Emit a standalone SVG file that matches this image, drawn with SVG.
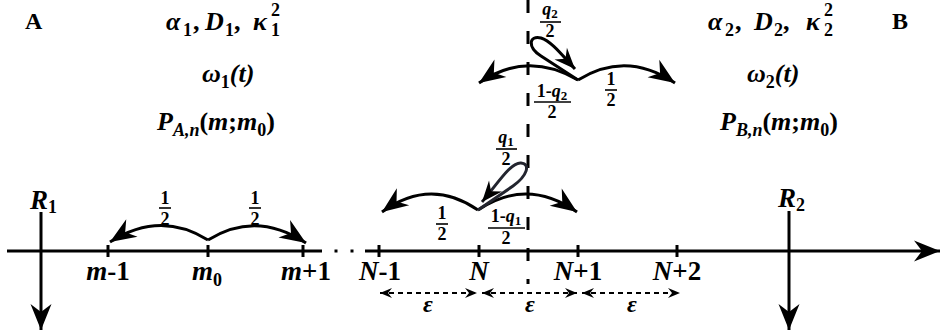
<svg xmlns="http://www.w3.org/2000/svg" width="943" height="336" viewBox="0 0 943 336">
<style>
.t{font-family:"Liberation Serif","Times New Roman",serif;font-weight:bold;fill:#000}
.i{font-style:italic}
.big{font-size:26px}
.ax{font-size:27px}
.sb{font-size:18px}
.f{font-family:"Liberation Serif","Times New Roman",serif;font-weight:bold;font-size:18px;fill:#000}
.fs{font-size:13px}
.ln{stroke:#000;stroke-width:3;fill:none}
.fl{stroke:#000;stroke-width:1.6}
.tk{stroke:#000;stroke-width:3}
.eps{stroke:#000;stroke-width:1.8;stroke-dasharray:5 4;fill:none}
</style>
<defs>
<marker id="ah" markerUnits="userSpaceOnUse" markerWidth="40" markerHeight="40" refX="0" refY="0" orient="auto" overflow="visible">
<path d="M0,0 L-26,-10.5 L-18,0 L-26,10.5 Z" fill="#000"/>
</marker>
<marker id="ahs" markerUnits="userSpaceOnUse" markerWidth="30" markerHeight="30" refX="0" refY="0" orient="auto" overflow="visible">
<path d="M0,0 L-21,-8.5 L-14,0 L-21,8.5 Z" fill="#000"/>
</marker>
<marker id="ae" markerUnits="userSpaceOnUse" markerWidth="20" markerHeight="20" refX="0" refY="0" orient="auto-start-reverse" overflow="visible">
<path d="M0,0 L-12,-5 L-8,0 L-12,5 Z" fill="#000"/>
</marker>
</defs>

<g id="labels-top">
<text class="t" x="25" y="29" font-size="24">A</text>
<text class="t" x="892" y="29" font-size="24">B</text>
</g>

<g id="regionA">
<text class="t big" y="30"><tspan class="i" x="166">α</tspan><tspan class="sb" x="183" dy="6">1</tspan><tspan x="193" dy="-6">,</tspan><tspan class="i" x="205">D</tspan><tspan class="sb" x="225" dy="6">1</tspan><tspan x="234" dy="-6">,</tspan><tspan class="i" x="253">κ</tspan><tspan class="sb" x="271" dy="6">1</tspan></text>
<text class="t sb" x="271" y="16">2</text>
<text class="t big" x="202" y="82"><tspan class="i">ω</tspan><tspan class="sb" dy="6">1</tspan><tspan class="i" dy="-6">(t)</tspan></text>
<text class="t big" x="157" y="130"><tspan class="i">P</tspan><tspan class="i sb" dy="6">A,n</tspan><tspan dy="-6">(</tspan><tspan class="i">m</tspan>;<tspan class="i">m</tspan><tspan class="sb" dy="6">0</tspan><tspan dy="-6">)</tspan></text>
</g>

<g id="regionB">
<text class="t big" y="30"><tspan class="i" x="708">α</tspan><tspan class="sb" x="725" dy="6">2</tspan><tspan x="735" dy="-6">,</tspan><tspan class="i" x="754">D</tspan><tspan class="sb" x="774" dy="6">2</tspan><tspan x="783" dy="-6">,</tspan><tspan class="i" x="806">κ</tspan><tspan class="sb" x="824" dy="6">2</tspan></text>
<text class="t sb" x="824" y="16">2</text>
<text class="t big" x="747" y="82"><tspan class="i">ω</tspan><tspan class="sb" dy="6">2</tspan><tspan class="i" dy="-6">(t)</tspan></text>
<text class="t big" x="720" y="130"><tspan class="i">P</tspan><tspan class="i sb" dy="6">B,n</tspan><tspan dy="-6">(</tspan><tspan class="i">m</tspan>;<tspan class="i">m</tspan><tspan class="sb" dy="6">0</tspan><tspan dy="-6">)</tspan></text>
</g>

<g id="axis">
<line class="ln" x1="7" y1="251" x2="322" y2="251"/>
<rect x="334.5" y="249.5" width="3" height="3"/>
<rect x="350.5" y="249.5" width="3" height="3"/>
<line class="ln" x1="365" y1="251" x2="940" y2="251" marker-end="url(#ah)"/>
<line class="tk" x1="108" y1="245" x2="108" y2="257"/>
<line class="tk" x1="208" y1="245" x2="208" y2="257"/>
<line class="tk" x1="303" y1="245" x2="303" y2="257"/>
<line class="tk" x1="379" y1="245" x2="379" y2="257"/>
<line class="tk" x1="479" y1="245" x2="479" y2="257"/>
<line class="tk" x1="578" y1="245" x2="578" y2="257"/>
<line class="tk" x1="677" y1="245" x2="677" y2="257"/>
<line x1="528" y1="0" x2="528" y2="284" stroke="#000" stroke-width="3" stroke-dasharray="13 18"/>
</g>

<g id="axis-labels">
<text class="t ax" x="108" y="280" text-anchor="middle"><tspan class="i">m</tspan>-1</text>
<text class="t ax" x="192" y="280"><tspan class="i">m</tspan><tspan class="sb" dy="6">0</tspan></text>
<text class="t ax" x="306" y="280" text-anchor="middle"><tspan class="i">m</tspan>+1</text>
<text class="t ax" x="380" y="280" text-anchor="middle"><tspan class="i">N</tspan>-1</text>
<text class="t ax i" x="479" y="280" text-anchor="middle">N</text>
<text class="t ax" x="578" y="280" text-anchor="middle"><tspan class="i">N</tspan>+1</text>
<text class="t ax" x="677" y="280" text-anchor="middle"><tspan class="i">N</tspan>+2</text>
</g>

<g id="R1">
<line class="ln" x1="41" y1="212" x2="41" y2="330" marker-end="url(#ah)"/>
<text class="t ax" x="30" y="209"><tspan class="i">R</tspan><tspan class="sb" dy="4">1</tspan></text>
</g>
<g id="R2">
<line class="ln" x1="789" y1="211" x2="789" y2="330" marker-end="url(#ah)"/>
<text class="t ax" x="778" y="207"><tspan class="i">R</tspan><tspan class="sb" dy="4">2</tspan></text>
</g>

<g id="connectors">
<path class="ln" d="M208,240 Q160,210 110,242" marker-end="url(#ah)"/>
<path class="ln" d="M208,240 Q256,210 306,243" marker-end="url(#ah)"/>
<path class="ln" d="M578,80 Q527,50 479,83" marker-end="url(#ah)"/>
<path class="ln" d="M578,80 Q626,50 675,83" marker-end="url(#ah)"/>
<path class="ln" d="M578,80 L541,56 C527,47 529,35 541,38 C551,41 562,55 575,69" marker-end="url(#ahs)"/>
<path class="ln" d="M478,210 Q430,177 382,212" marker-end="url(#ah)"/>
<path class="ln" d="M478,210 Q527,177 577,212" marker-end="url(#ah)"/>
<path d="M478,210 L513,186 C527,176 531,164 521,163 C511,162 498,183 482,202" fill="none" stroke="#23252f" stroke-width="3" marker-end="url(#ahs)"/>
<line class="eps" x1="380" y1="293" x2="477" y2="293" marker-start="url(#ae)" marker-end="url(#ae)"/>
<line class="eps" x1="482" y1="293" x2="577" y2="293" marker-start="url(#ae)" marker-end="url(#ae)"/>
<line class="eps" x1="582" y1="293" x2="680" y2="293" marker-start="url(#ae)" marker-end="url(#ae)"/>
</g>

<g id="eps-labels">
<text class="t i" font-size="24" x="428" y="312" text-anchor="middle">ε</text>
<text class="t i" font-size="24" x="530" y="312" text-anchor="middle">ε</text>
<text class="t i" font-size="24" x="632" y="312" text-anchor="middle">ε</text>
</g>

<g id="fractions">
<text class="f" x="165" y="204" text-anchor="middle">1</text>
<line class="fl" x1="159" y1="208" x2="171" y2="208"/>
<text class="f" x="165" y="225" text-anchor="middle">2</text>
<text class="f" x="255" y="204" text-anchor="middle">1</text>
<line class="fl" x1="249" y1="208" x2="261" y2="208"/>
<text class="f" x="255" y="225" text-anchor="middle">2</text>

<text class="f" x="550" y="15" text-anchor="middle"><tspan class="i">q</tspan><tspan class="fs" dy="3">2</tspan></text>
<line class="fl" x1="540" y1="22" x2="561" y2="22"/>
<text class="f" x="550" y="37" text-anchor="middle">2</text>

<text class="f" x="552" y="97" text-anchor="middle">1-<tspan class="i">q</tspan><tspan class="fs" dy="3">2</tspan></text>
<line class="fl" x1="534" y1="102" x2="571" y2="102"/>
<text class="f" x="552" y="118" text-anchor="middle">2</text>

<text class="f" x="611" y="85" text-anchor="middle">1</text>
<line class="fl" x1="605" y1="90" x2="617" y2="90"/>
<text class="f" x="611" y="106" text-anchor="middle">2</text>

<text class="f" x="506" y="143" text-anchor="middle"><tspan class="i">q</tspan><tspan class="fs" dy="3">1</tspan></text>
<line class="fl" x1="496" y1="149" x2="517" y2="149"/>
<text class="f" x="506" y="165" text-anchor="middle">2</text>

<text class="f" x="442" y="219" text-anchor="middle">1</text>
<line class="fl" x1="436" y1="224" x2="448" y2="224"/>
<text class="f" x="442" y="240" text-anchor="middle">2</text>

<text class="f" x="506" y="222" text-anchor="middle">1-<tspan class="i">q</tspan><tspan class="fs" dy="3">1</tspan></text>
<line class="fl" x1="488" y1="228" x2="525" y2="228"/>
<text class="f" x="506" y="244" text-anchor="middle">2</text>
</g>
</svg>
